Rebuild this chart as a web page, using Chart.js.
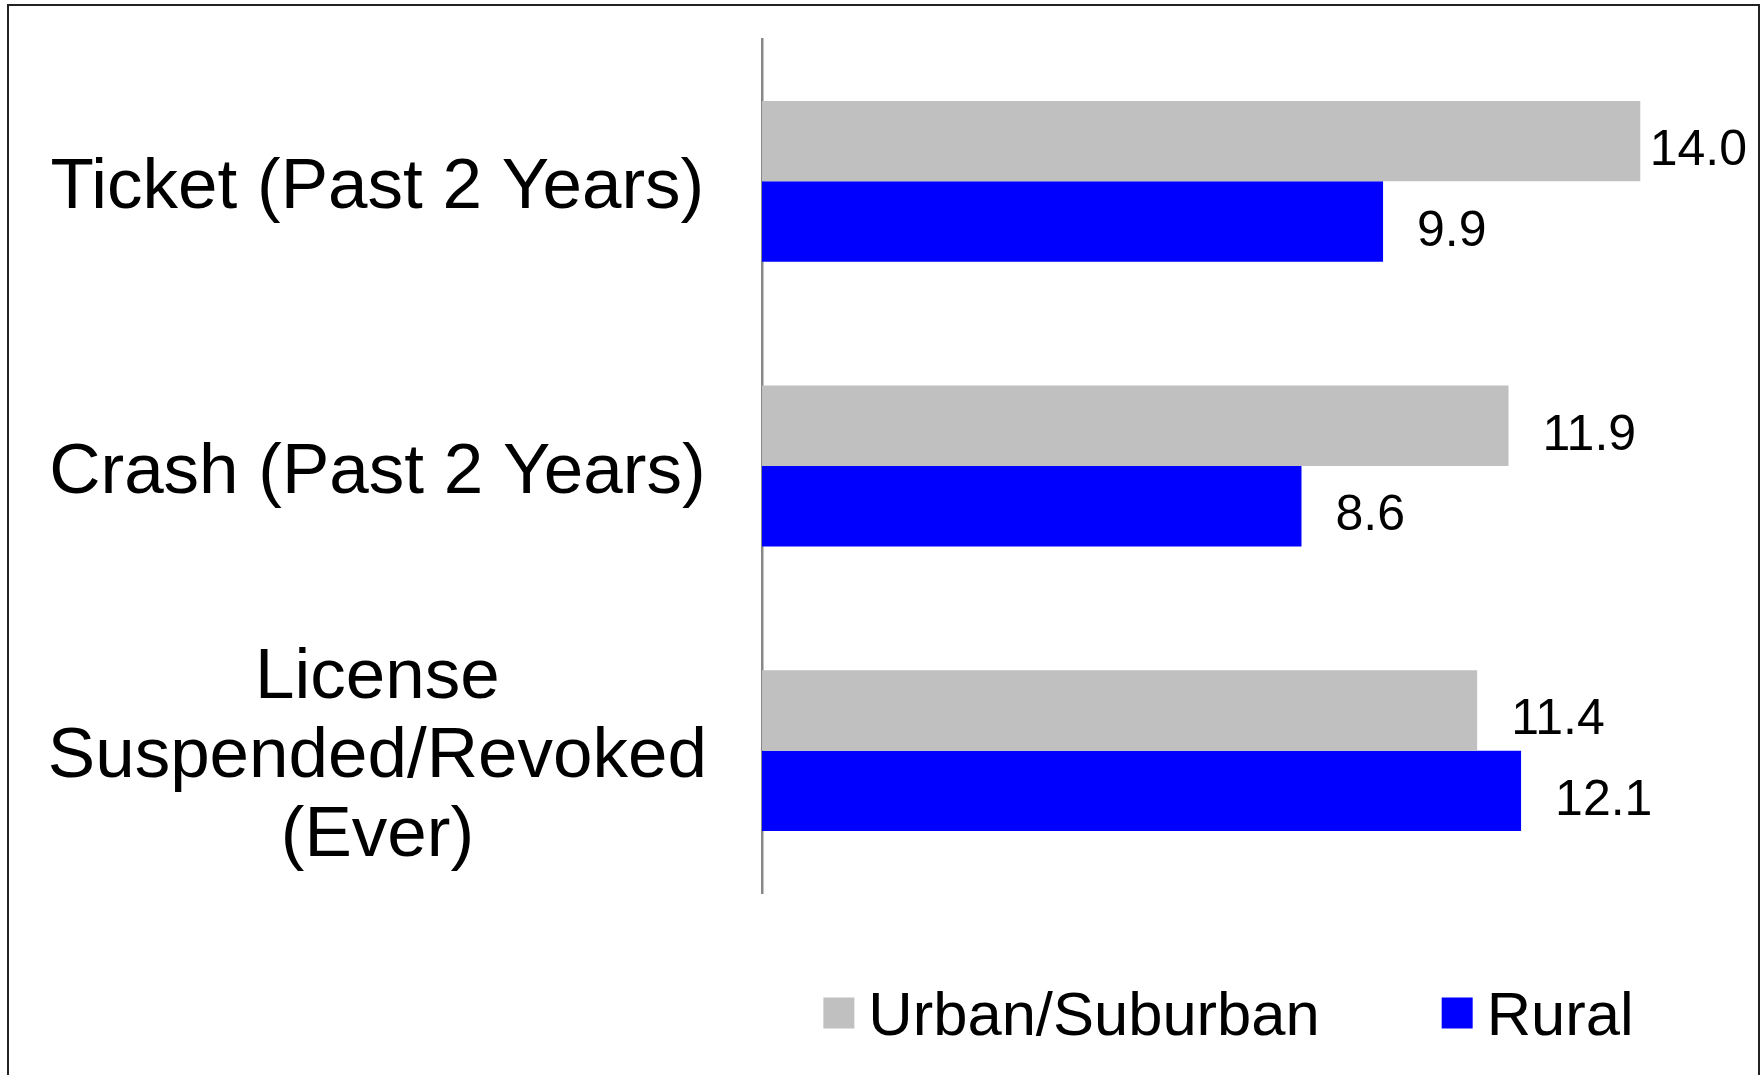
<!DOCTYPE html>
<html>
<head>
<meta charset="utf-8">
<script src="https://cdn.jsdelivr.net/npm/chart.js@4.4.1/dist/chart.umd.min.js"></script>
<style>
  html, body { margin: 0; padding: 0; background: #fff; }
  #wrap { position: relative; width: 1761px; height: 1075px; overflow: hidden; }
  #frame { position: absolute; left: 7px; top: 4px; width: 1749px; height: 1090px; border: 2px solid #222; pointer-events: none; }
</style>
</head>
<body>
<div id="wrap">
  <canvas id="riskChart" width="1761" height="1075"></canvas>
  <div id="frame"></div>
</div>
<script>
const FONT = '"Liberation Sans", Arial, sans-serif';

// data
const categories = [
  'Ticket (Past 2 Years)',
  'Crash (Past 2 Years)',
  ['License', 'Suspended/Revoked', '(Ever)']
];
const seriesNames = ['Urban/Suburban', 'Rural'];
const urbanValues = [14.0, 11.9, 11.4];
const ruralValues = [9.9, 8.6, 12.1];
const seriesColors = ['#C0C0C0', '#0000FF'];

// value labels drawn next to each bar
const valueLabels = {
  id: 'valueLabels',
  afterDatasetsDraw(chart) {
    const ctx = chart.ctx;
    ctx.save();
    ctx.font = '50px ' + FONT;
    ctx.fillStyle = '#000';
    ctx.textBaseline = 'alphabetic';
    chart.data.datasets.forEach((ds, i) => {
      chart.getDatasetMeta(i).data.forEach((bar, j) => {
        const txt = ds.data[j].toFixed(1);
        const w = ctx.measureText(txt).width;
        let x = bar.x + 34;
        if (x + w > 1747) x = 1747 - w; // keep inside the frame
        ctx.fillText(txt, x, bar.y + 24);
      });
    });
    ctx.restore();
  }
};

// legend centred under the plot area
const bottomLegend = {
  id: 'bottomLegend',
  afterDraw(chart) {
    const ctx = chart.ctx;
    const area = chart.chartArea;
    ctx.save();
    ctx.font = '61.5px ' + FONT;
    ctx.textBaseline = 'alphabetic';
    const box = 31, gap = 14, spacing = 122;
    const items = chart.data.datasets.map(ds => ({
      text: ds.label,
      color: ds.backgroundColor,
      w: ctx.measureText(ds.label).width
    }));
    const total = items.reduce((s, it) => s + box + gap + it.w, 0) + spacing * (items.length - 1);
    let x = (area.left + area.right) / 2 - total / 2 - 4;
    const y = area.bottom + 120;
    items.forEach(it => {
      ctx.fillStyle = it.color;
      ctx.fillRect(x, y - box / 2, box, box);
      ctx.fillStyle = '#000';
      ctx.fillText(it.text, x + box + gap, y + 22);
      x += box + gap + it.w + spacing;
    });
    ctx.restore();
  }
};

const createChart = () => {
  const canvas = document.getElementById('riskChart');
  new Chart(canvas.getContext('2d'), {
    type: 'bar',
    data: {
      labels: categories,
      datasets: [
        { label: seriesNames[0], data: urbanValues, backgroundColor: seriesColors[0] },
        { label: seriesNames[1], data: ruralValues, backgroundColor: seriesColors[1] }
      ]
    },
    options: {
      indexAxis: 'y',
      responsive: false,
      animation: false,
      barPercentage: 1,
      categoryPercentage: 0.565,
      layout: { padding: { top: 39, bottom: 182, left: 0, right: 58 } },
      plugins: {
        legend: { display: false },
        tooltip: { enabled: false }
      },
      scales: {
        x: { min: 0, max: 15, display: false },
        y: {
          grid: { display: false, drawTicks: false },
          border: { display: true, color: '#888888', width: 2.5 },
          ticks: {
            color: '#000',
            font: { size: 71, family: FONT, lineHeight: 1.11 },
            crossAlign: 'center',
            padding: 55,
            labelOffset: 7
          },
          afterFit(scale) {
            scale.width = 762;
            // labels sit inside their bands, no extra room needed
            scale.paddingTop = 0;
            scale.paddingBottom = 0;
          }
        }
      }
    },
    plugins: [valueLabels, bottomLegend]
  });
};

createChart();
</script>
</body>
</html>
